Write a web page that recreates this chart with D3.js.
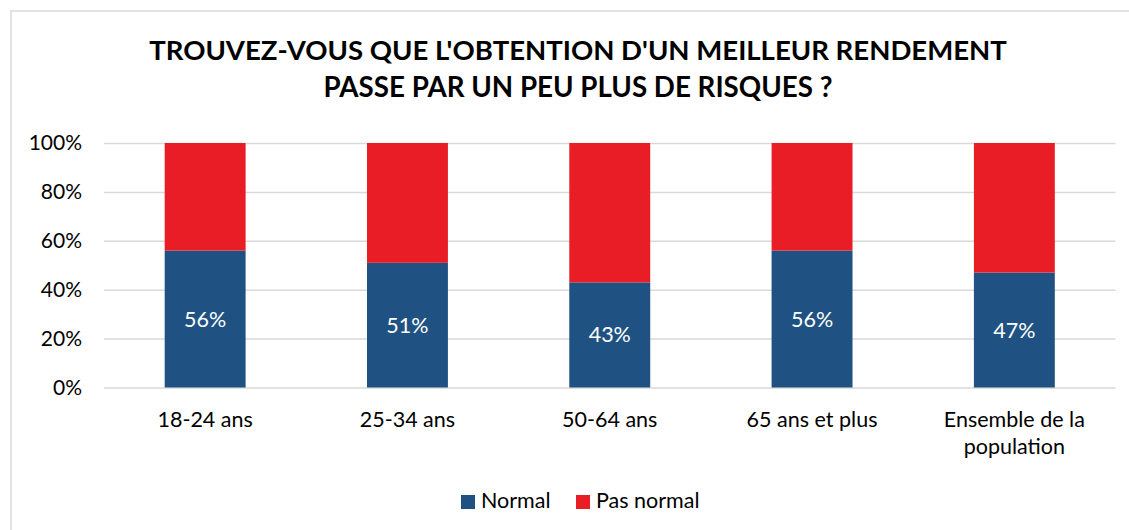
<!DOCTYPE html>
<html>
<head>
<meta charset="utf-8">
<script src="https://cdn.jsdelivr.net/npm/d3@7"></script>
<style>
html,body{margin:0;padding:0;background:#fff;}
svg{display:block;font-family:Lato,"Open Sans",sans-serif;}
</style>
</head>
<body>
<svg id="chart" width="1129" height="530"></svg>
<script>
const titleLines = ["TROUVEZ-VOUS QUE L'OBTENTION D'UN MEILLEUR RENDEMENT", "PASSE PAR UN PEU PLUS DE RISQUES ?"];
const categories = ["18-24 ans", "25-34 ans", "50-64 ans", "65 ans et plus", "Ensemble de la\npopulation"];
const normal = [0.56, 0.51, 0.43, 0.56, 0.47];
const pasNormal = [0.44, 0.49, 0.57, 0.44, 0.53];
const seriesNames = ["Normal", "Pas normal"];
const colors = ["#1f5282", "#e81d25"];
const yTicks = [0, 0.2, 0.4, 0.6, 0.8, 1.0];

const svg = d3.select("#chart");

// border
svg.append("rect").attr("x", 11).attr("y", 11).attr("width", 1140).attr("height", 540)
  .attr("fill", "#fff").attr("stroke", "#d9d9d9").attr("stroke-width", 1.5);

// title
const tw = [858, 509];
const tb = [60, 97];
titleLines.forEach((t, i) => {
  const el = svg.append("text").attr("x", 578).attr("y", tb[i]).attr("text-anchor", "middle")
    .attr("font-weight", "bold").attr("font-size", 28).attr("fill", "#000").text(t);
  const w = el.node().getComputedTextLength();
  el.attr("font-size", 28 * tw[i] / w);
});

const x = d3.scaleBand().domain(categories).range([104, 1115.5]).paddingInner(0.6).paddingOuter(0.3);
const y = d3.scaleLinear().domain([0, 1]).range([387.5, 143]);

// grid
const grid = svg.append("g").attr("transform", "translate(104,0)")
  .call(d3.axisLeft(y).tickValues(yTicks).tickSize(-1011.5).tickFormat(""));
grid.select(".domain").remove();
grid.selectAll("line").attr("stroke", "#d9d9d9").attr("stroke-width", 1.5);

// y labels
const yAx = svg.append("g").attr("transform", "translate(82,0)")
  .call(d3.axisLeft(y).tickValues(yTicks).tickSize(0).tickPadding(0).tickFormat(d3.format(".0%")));
yAx.select(".domain").remove();
yAx.selectAll("text").attr("font-size", 21).attr("fill", "#000").attr("font-family", "Lato");

// stacks
const rows = categories.map((c, i) => ({cat: c, Normal: normal[i], "Pas normal": pasNormal[i]}));
const stack = d3.stack().keys(seriesNames)(rows);
const layers = svg.append("g").selectAll("g").data(stack).join("g").attr("fill", (d, i) => colors[i]);
layers.selectAll("rect").data(d => d).join("rect")
  .attr("x", d => x(d.data.cat)).attr("width", x.bandwidth())
  .attr("y", d => y(d[1])).attr("height", d => y(d[0]) - y(d[1]));

// data labels for Normal
svg.append("g").selectAll("text").data(stack[0]).join("text")
  .attr("x", d => x(d.data.cat) + x.bandwidth() / 2)
  .attr("y", d => (y(d[0]) + y(d[1])) / 2)
  .attr("dy", "0.35em").attr("text-anchor", "middle")
  .attr("font-size", 21.5).attr("fill", "#fff")
  .text(d => d3.format(".0%")(d[1] - d[0]));

// x labels
const xl = svg.append("g").selectAll("text").data(categories).join("text")
  .attr("x", d => x(d) + x.bandwidth() / 2).attr("y", 427)
  .attr("text-anchor", "middle").attr("font-size", 21.5).attr("fill", "#000");
xl.each(function(d) {
  const parts = d.split("\n");
  d3.select(this).selectAll("tspan").data(parts).join("tspan")
    .attr("x", x(d) + x.bandwidth() / 2).attr("dy", (p, i) => i ? 27 : 0).text(p => p);
});

// legend
const legX = [461, 576];
seriesNames.forEach((s, i) => {
  svg.append("rect").attr("x", legX[i]).attr("y", 495).attr("width", 14).attr("height", 14).attr("fill", colors[i]);
  svg.append("text").attr("x", legX[i] + 20).attr("y", 508).attr("font-size", 21.5).attr("fill", "#000").text(s);
});
</script>
</body>
</html>
